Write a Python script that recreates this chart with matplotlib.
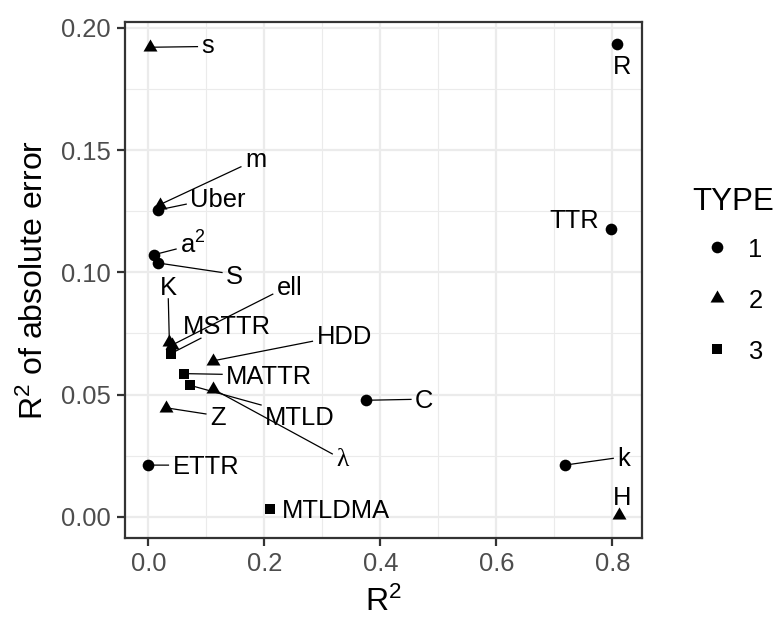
import numpy as np
import matplotlib
matplotlib.use("Agg")
import matplotlib.pyplot as plt
from matplotlib.path import Path
from matplotlib.lines import Line2D

plt.rcParams['font.family'] = ['Liberation Sans', 'DejaVu Sans']
plt.rcParams['mathtext.fontset'] = 'custom'
plt.rcParams['mathtext.rm'] = 'Liberation Sans'
plt.rcParams['mathtext.it'] = 'Liberation Sans:italic'

# measures
names = ['s', 'R', 'm', 'Uber', 'a$^{2}$', 'S', 'TTR', 'K', 'ell', 'MSTTR',
         'HDD', 'MATTR', 'MTLD', 'λ', 'Z', 'C', 'ETTR', 'k', 'H', 'MTLDMA']
r2 = [0.003, 0.8075, 0.019, 0.017, 0.0095, 0.017, 0.797, 0.036, 0.040, 0.038,
      0.111, 0.061, 0.072, 0.112, 0.031, 0.375, 0.000, 0.718, 0.811, 0.2095]
r2_abs = [0.192, 0.1932, 0.1276, 0.1255, 0.1072, 0.1038, 0.1179, 0.0715, 0.0702, 0.0667,
          0.0638, 0.0586, 0.0538, 0.0522, 0.0446, 0.0477, 0.0212, 0.0212, 0.0010, 0.0034]
types = [2, 1, 2, 1, 1, 1, 1, 2, 2, 3,
         2, 3, 3, 2, 2, 1, 1, 1, 2, 3]

# where the repelled labels ended up (label centre x, baseline y)
lab_x = [0.1022, 0.8159, 0.1845, 0.1198, 0.0764, 0.1483, 0.7348, 0.0336, 0.2434, 0.1348,
         0.3374, 0.2081, 0.2612, 0.3345, 0.1193, 0.4753, 0.0988, 0.8193, 0.8159, 0.3229]
lab_y = [0.1896, 0.1809, 0.1432, 0.1268, 0.1075, 0.0954, 0.1181, 0.0908, 0.0908, 0.0747,
         0.0706, 0.0542, 0.0376, 0.0208, 0.0376, 0.0444, 0.0174, 0.0208, 0.0048, -0.0004]

type_levels = [1, 2, 3]

W, H = 776, 619
fig = plt.figure(figsize=(W / 100, H / 100), dpi=100)
ax = fig.add_axes([125 / W, 1 - 538 / H, (641.7 - 125) / W, (538 - 22.3) / H])

tri = Path([(0, 0.577), (-0.5, -0.289), (0.5, -0.289), (0, 0.577)],
           [Path.MOVETO, Path.LINETO, Path.LINETO, Path.CLOSEPOLY])
shape = {1: 'o', 2: tri, 3: 's'}
msize = {1: 8.4, 2: 11.6, 3: 7.9}

r2 = np.array(r2)
r2_abs = np.array(r2_abs)
types = np.array(types)
for t in type_levels:
    sel = types == t
    ax.scatter(r2[sel], r2_abs[sel], marker=shape[t], s=msize[t] ** 2,
               color='black', linewidths=0, zorder=3)

ax.set_xlim(-0.0405, 0.8505)
ax.set_ylim(-0.0086, 0.2022)
ax.set_xticks([0, 0.2, 0.4, 0.6, 0.8])
ax.set_xticklabels(['0.0', '0.2', '0.4', '0.6', '0.8'])
ax.set_xticks([0.1, 0.3, 0.5, 0.7], minor=True)
ax.set_yticks([0, 0.05, 0.10, 0.15, 0.20])
ax.set_yticklabels(['0.00', '0.05', '0.10', '0.15', '0.20'])
ax.set_yticks([0.025, 0.075, 0.125, 0.175], minor=True)
ax.grid(which='major', color='#EBEBEB', lw=1.6)
ax.grid(which='minor', color='#EBEBEB', lw=0.8)
ax.set_axisbelow(True)
for sp in ax.spines.values():
    sp.set_color('#333333')
    sp.set_linewidth(1.6)
ax.tick_params(which='major', length=5.8, width=1.6, color='#333333',
               labelsize=18.4, labelcolor='#4D4D4D', pad=4.5)
ax.tick_params(which='minor', length=0)

ax.set_xlabel('R$^{2}$', fontsize=23)
ax.set_ylabel('R$^{2}$ of absolute error', fontsize=23)
ax.xaxis.set_label_coords(0.5, -0.094)
ax.yaxis.set_label_coords(-0.145, 0.5)

texts = []
for name, lx, ly in zip(names, lab_x, lab_y):
    fam = ['Liberation Serif'] if name == 'λ' else None
    t = ax.text(lx, ly, name, ha='center', va='baseline', fontsize=18.4,
                family=fam, zorder=4)
    texts.append(t)

# segments from each point to its label box, like ggrepel
fig.canvas.draw()
renderer = fig.canvas.get_renderer()
em = 18.4 * fig.dpi / 72
pad = 4
for t, name, x, y, lx, ly in zip(texts, names, r2, r2_abs, lab_x, lab_y):
    bb = t.get_window_extent(renderer)
    px, py = ax.transData.transform((x, y))
    bx, by = ax.transData.transform((lx, ly))
    tall = any(c.isupper() or c in 'bdfhklt2' for c in name)
    top = by + (0.72 if tall else 0.52) * em
    x0, x1 = bb.x0 - pad, bb.x1 + pad
    y0, y1 = by - pad, top + pad
    cx, cy = (x0 + x1) / 2, (y0 + y1) / 2
    w, h = (x1 - x0) / 2, (y1 - y0) / 2
    dx, dy = cx - px, cy - py
    u = min(w / abs(dx) if dx else np.inf, h / abs(dy) if dy else np.inf)
    if u >= 1:
        continue
    qx, qy = cx - dx * u, cy - dy * u
    if np.hypot(qx - px, qy - py) < 12:
        continue
    inv = ax.transData.inverted()
    (sx, sy), (ex, ey) = inv.transform([(px, py), (qx, qy)])
    ax.plot([sx, ex], [sy, ey], color='black', lw=0.9, zorder=2)

# legend
def fx(p):
    return p / W

def fy(p):
    return 1 - p / H

fig.text(fx(692.3), fy(210), 'TYPE', fontsize=22.5, ha='left', va='baseline')
key_y = [246.7, 298, 349]
for t, ky in zip(type_levels, key_y):
    fig.add_artist(Line2D([fx(716.7)], [fy(ky)], marker=shape[t], markersize=msize[t],
                          color='black', markeredgewidth=0, linestyle='none',
                          transform=fig.transFigure))
    fig.text(fx(748.3), fy(ky + 10), str(t), fontsize=18.4, ha='left', va='baseline')

fig.savefig('out.png', dpi=100)
